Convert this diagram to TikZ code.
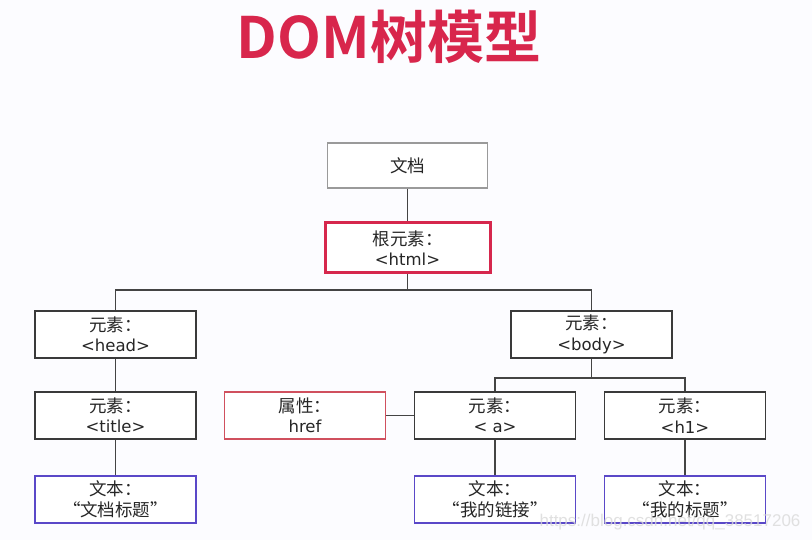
\documentclass[tikz,border=0pt]{standalone}
\usepackage{fontspec}
\newfontfamily\cjk{Noto Sans CJK SC}
\newfontfamily\cjkb{Noto Sans CJK SC Bold}
\newfontfamily\lat{DejaVu Sans}
\newfontfamily\wm{Liberation Sans}
\definecolor{titlered}{HTML}{D8264C}
\definecolor{rootred}{HTML}{D6274D}
\definecolor{attrred}{HTML}{D0505E}
\definecolor{textblue}{HTML}{5A48C8}
\definecolor{boxgray}{HTML}{3A3A3A}
\definecolor{docgray}{HTML}{9A9A9A}
\definecolor{linegray}{HTML}{444444}
\newcommand{\latt}[1]{{\lat\fontsize{16.5}{20.5}\selectfont #1}}
\begin{document}
\begin{tikzpicture}[x=1pt,y=-1pt,
  box/.style={draw=boxgray,line width=1.4pt,fill=white,minimum width=161pt,minimum height=47pt,
    inner sep=0pt,align=center,font=\cjk\fontsize{17.5}{20.5}\selectfont,text=black!85},
  docbox/.style={box,draw=docgray,minimum width=160pt,minimum height=45pt},
  rootbox/.style={box,draw=rootred,line width=3pt,minimum width=165pt,minimum height=50pt},
  attrbox/.style={box,draw=attrred,line width=1.2pt},
  textbox/.style={box,draw=textblue,line width=1.4pt},
  conn/.style={draw=linegray,line width=1.3pt}]
\fill[white!98!blue!60!white] (0,0) rectangle (812,540);
\useasboundingbox (0,0) rectangle (812,540);
\node[font=\cjkb\fontsize{57}{57}\selectfont,text=titlered] (ttl) at (389,37) {DOM树模型};
\node[docbox] (doc) at (407.5,165.5) {文档};
\node[rootbox] (root) at (407.5,248) {根元素：\\\latt{<html>}};
\node[box] (head) at (115.5,334.5) {元素：\\\latt{<head>}};
\node[box] (body) at (591.5,334.5) {元素：\\\latt{<body>}};
\node[box] (title) at (115.5,415.5) {元素：\\\latt{<title>}};
\node[attrbox] (attr) at (305,415.5) {属性：\\\latt{href}};
\node[box] (a) at (495,415.5) {元素：\\\latt{< a>}};
\node[box] (h1) at (685,415.5) {元素：\\\latt{<h1>}};
\node[textbox] (t1) at (115.5,499.5) {文本：\\“文档标题”};
\node[textbox] (t2) at (495,499.5) {文本：\\“我的链接”};
\node[textbox] (t3) at (685,499.5) {文本：\\“我的标题”};
\coordinate (hj) at (407.5,290);
\coordinate (bj) at (591.5,378);
\draw[conn] (doc.south) -- (root.north);
\draw[conn] (root.south) -- (hj);
\draw[conn] (head.north) |- (hj) -| (body.north);
\draw[conn] (body.south) -- (bj);
\draw[conn] (a.north) |- (bj) -| (h1.north);
\draw[conn] (head.south) -- (title.north);
\draw[conn] (title.south) -- (t1.north);
\draw[conn] (a.south) -- (t2.north);
\draw[conn] (h1.south) -- (t3.north);
\draw[conn] (attr.east) -- (a.west);
\node[font=\wm\fontsize{17}{17}\selectfont,text=gray!30,opacity=0.8,anchor=east] (wmk) at (804,522) {https://blog.csdn.net/qq\_38517206};
\end{tikzpicture}
\end{document}
